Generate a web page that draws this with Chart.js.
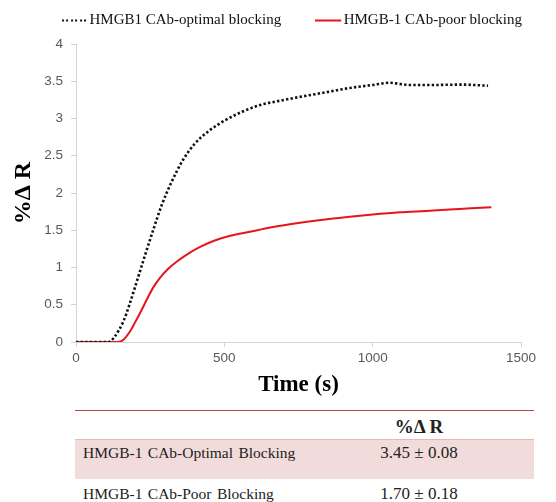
<!DOCTYPE html>
<html><head><meta charset="utf-8">
<script src="https://cdn.jsdelivr.net/npm/chart.js@4"></script>
<style>
html,body{margin:0;padding:0;background:#fff;}
#wrap{position:relative;width:556px;height:502px;}
#cv{position:absolute;left:0;top:0;}
#tbl{position:absolute;left:75px;top:410px;width:459px;border-collapse:collapse;font-family:"Liberation Serif","Times New Roman",serif;font-size:15.5px;color:#222;}
#tbl th,#tbl td{padding:0;}
</style></head>
<body>
<div id="wrap">
<canvas id="cv" width="556" height="400"></canvas>
<table id="tbl"></table>
</div>
<script>
// ---- data ----
const optimalTime  = [0, 50, 100, 110, 130, 160, 180, 200, 230, 260, 290, 320, 360, 400, 450, 500, 560, 620, 690, 755, 840, 923, 1000, 1058, 1090, 1126, 1200, 1300, 1389];
const optimalValue = [0, 0, 0, 0, 0.07, 0.28, 0.5, 0.75, 1.13, 1.5, 1.85, 2.13, 2.44, 2.66, 2.84, 2.97, 3.09, 3.18, 3.24, 3.29, 3.35, 3.41, 3.45, 3.48, 3.465, 3.45, 3.45, 3.455, 3.44];
const poorTime  = [0, 50, 100, 140, 160, 185, 200, 220, 240, 260, 285, 310, 340, 380, 420, 470, 520, 586, 660, 755, 840, 923, 1000, 1092, 1180, 1260, 1330, 1400];
const poorValue = [0, 0, 0, 0, 0.03, 0.16, 0.27, 0.42, 0.58, 0.73, 0.87, 0.98, 1.08, 1.19, 1.28, 1.365, 1.425, 1.48, 1.54, 1.60, 1.645, 1.68, 1.71, 1.74, 1.76, 1.78, 1.795, 1.81];
const seriesNames = ["HMGB1 CAb-optimal blocking", "HMGB-1 CAb-poor blocking"];
const xTicks = [0, 500, 1000, 1500];
const yTicks = [0, 0.5, 1, 1.5, 2, 2.5, 3, 3.5, 4];
const tableHeader = "%\u0394 R";
const tableRows = ["HMGB-1 CAb-Optimal Blocking", "HMGB-1 CAb-Poor Blocking"];
const tableValues = ["3.45 \u00b1 0.08", "1.70 \u00b1 0.18"];

// ---- legend samples ----
function sample(color, dotted) {
  const c = document.createElement('canvas');
  c.width = 27; c.height = 4;
  const g = c.getContext('2d');
  g.fillStyle = color;
  if (dotted) { for (let x = 1; x < 27; x += 4.4) g.fillRect(Math.round(x), 1, 2, 2); }
  else g.fillRect(0, 1, 26, 2);
  return c;
}
const samples = [sample('#111', true), sample('#e8141b', false)];

// ---- chart ----
Chart.defaults.font.family = '"Liberation Serif","Times New Roman",serif';
const toXY = (ts, vs) => ts.map((t, i) => ({x: t, y: vs[i]}));
const axisColor = '#d4d4d4';
const tickFont = {family: '"Liberation Sans", Arial, sans-serif', size: 13.5};
const legendFitPlugin = {
  id: 'legendFit',
  afterInit(chart) {
    const lg = chart.legend;
    const origFit = lg.fit;
    lg.fit = function () { origFit.call(this); this.height += 9; };
    const origDraw = lg.draw;
    lg.draw = function () {
      const ctx = this.ctx;
      ctx.save(); ctx.translate(11, 3); origDraw.apply(this, arguments); ctx.restore();
    };
  }
};
new Chart(document.getElementById('cv'), {
  type: 'line',
  data: {datasets: [
    {label: seriesNames[0], data: toXY(optimalTime, optimalValue), borderColor: '#111', backgroundColor: '#111',
     borderWidth: 2.6, borderDash: [2.4, 2.2], borderCapStyle: 'butt', pointRadius: 0, cubicInterpolationMode: 'monotone', fill: false},
    {label: seriesNames[1], data: toXY(poorTime, poorValue), borderColor: '#e8141b', backgroundColor: '#e8141b',
     borderWidth: 2, pointRadius: 0, cubicInterpolationMode: 'monotone', fill: false}
  ]},
  plugins: [legendFitPlugin],
  options: {
    responsive: false, animation: false,
    layout: {padding: {left: 0, right: 35, top: 0, bottom: 0}},
    plugins: {
      tooltip: {enabled: false},
      legend: {position: 'top', align: 'end',
        labels: {usePointStyle: true, boxWidth: 15, boxHeight: 15, padding: 10, color: '#111',
          font: {family: '"Liberation Serif","Times New Roman",serif', size: 15},
          generateLabels: chart => chart.data.datasets.map((ds, i) => ({
            text: ds.label + (i === 0 ? '        ' : ''),
            pointStyle: samples[i], fillStyle: 'rgba(0,0,0,0)', strokeStyle: 'rgba(0,0,0,0)', lineWidth: 0,
            fontColor: '#111', hidden: false, datasetIndex: i
          }))}}
    },
    scales: {
      x: {type: 'linear', min: 0, max: 1500,
        afterBuildTicks: s => { s.ticks = xTicks.map(v => ({value: v})); },
        afterFit: s => { s.height = 58; },
        grid: {display: true, drawOnChartArea: false, drawTicks: true, tickLength: 5, color: axisColor},
        border: {display: true, color: axisColor, width: 1},
        ticks: {color: '#595959', font: tickFont, padding: 3, maxRotation: 0, callback: v => String(v)},
        title: {display: true, text: 'Time (s)', color: '#000', padding: {top: 0, bottom: 1},
          font: {family: '"Liberation Serif","Times New Roman",serif', size: 23, weight: 'bold'}}
      },
      y: {type: 'linear', min: 0, max: 4,
        afterBuildTicks: s => { s.ticks = yTicks.map(v => ({value: v})); },
        afterFit: s => { s.width = 76; },
        grid: {display: true, drawOnChartArea: false, drawTicks: true, tickLength: 5, color: axisColor},
        border: {display: true, color: axisColor, width: 1},
        ticks: {color: '#595959', font: tickFont, padding: 8, callback: v => String(v)},
        title: {display: true, text: '%\u0394 R', color: '#000', padding: {top: 9, bottom: 0},
          font: {family: '"Liberation Serif","Times New Roman",serif', size: 24, weight: 'bold'}}
      }
    }
  }
});

// ---- table ----
const tbl = document.getElementById('tbl');
let html = '<tr style="border-top:1.5px solid #b8433f;height:29px"><th></th><th style="font-weight:bold;text-align:center;width:230px;font-size:19px;padding-top:4px">' + tableHeader + '</th></tr>';
tableRows.forEach((r, i) => {
  const bg = i === 0 ? 'background:#f2dcdb;border-top:1px solid #e6b8b7;' : '';
  html += '<tr style="' + bg + 'height:' + (i === 0 ? 39 : 30) + 'px"><td style="padding-left:8px;word-spacing:1.5px;vertical-align:' + (i === 0 ? 'top;padding-top:4px' : 'middle') + '">' + r +
          '</td><td style="text-align:center;font-size:17px;vertical-align:' + (i === 0 ? 'top;padding-top:3px' : 'middle') + '">' + tableValues[i] + '</td></tr>';
});
tbl.innerHTML = html;
</script>
</body></html>
